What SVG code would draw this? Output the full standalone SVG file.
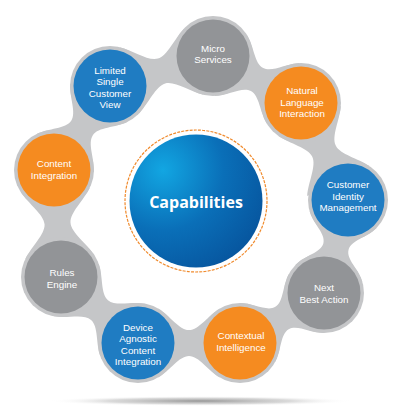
<svg xmlns="http://www.w3.org/2000/svg" width="400" height="417" viewBox="0 0 400 417">
<defs>
<radialGradient id="cg" cx="163" cy="170" r="110" gradientUnits="userSpaceOnUse">
<stop offset="0" stop-color="#12a6e2"/>
<stop offset="0.55" stop-color="#0a6fb8"/>
<stop offset="1" stop-color="#0757a0"/>
</radialGradient>
<radialGradient id="sh" cx="0.5" cy="0.5" r="0.5">
<stop offset="0" stop-color="#8a8a8a" stop-opacity="0.9"/>
<stop offset="0.6" stop-color="#b5b5b5" stop-opacity="0.5"/>
<stop offset="1" stop-color="#ffffff" stop-opacity="0"/>
</radialGradient>
</defs>
<style>
.br{fill:#c5c6c8}
.ring{fill:#c5c6c8}
.blue{fill:#1f7cc2}
.orange{fill:#f58b20}
.gray{fill:#929497}
.t{font-family:"Liberation Sans","Open Sans",sans-serif;font-size:9.8px;fill:#ffffff;text-anchor:middle}
.title{font-family:"Open Sans","Noto Sans","Liberation Sans",sans-serif;font-size:16px;font-weight:bold;fill:#ffffff;text-anchor:middle}
</style>
<rect width="400" height="417" fill="#ffffff"/>
<ellipse cx="200" cy="401" rx="152" ry="5" fill="url(#sh)"/>
<g id="connectors">
<path class="br" transform="translate(213,56) rotate(28.1)" d="M20,34.6 C32.1,27.6 39.9,13 49.9,13 C59.9,13 67.7,27.6 79.8,34.6 L79.8,-34.6 C67.7,-27.6 59.9,-13 49.9,-13 C39.9,-13 32.1,-27.6 20,-34.6Z"/>
<path class="br" transform="translate(301,103) rotate(64.4)" d="M20,34.6 C32.1,27.6 43.25,13 53.25,13 C63.25,13 74.4,27.6 86.5,34.6 L86.5,-34.6 C74.4,-27.6 63.25,-13 53.25,-13 C43.25,-13 32.1,-27.6 20,-34.6Z"/>
<path class="br" transform="translate(348,200) rotate(104.5)" d="M20,34.6 C32.1,27.6 38,13 48,13 C58,13 63.9,27.6 76,34.6 L76,-34.6 C63.9,-27.6 58,-13 48,-13 C38,-13 32.1,-27.6 20,-34.6Z"/>
<path class="br" transform="translate(324,293) rotate(149.2)" d="M20,34.6 C32.1,27.6 38.9,13 48.9,13 C58.9,13 65.7,27.6 77.8,34.6 L77.8,-34.6 C65.7,-27.6 58.9,-13 48.9,-13 C38.9,-13 32.1,-27.6 20,-34.6Z"/>
<path class="br" transform="translate(240,343) rotate(180)" d="M20,34.6 C32.1,27.6 41,13 51,13 C61,13 69.9,27.6 82,34.6 L82,-34.6 C69.9,-27.6 61,-13 51,-13 C41,-13 32.1,-27.6 20,-34.6Z"/>
<path class="br" transform="translate(138,343) rotate(220.6)" d="M20,34.6 C32.1,27.6 40.7,13 50.7,13 C60.7,13 69.3,27.6 81.4,34.6 L81.4,-34.6 C69.3,-27.6 60.7,-13 50.7,-13 C40.7,-13 32.1,-27.6 20,-34.6Z"/>
<path class="br" transform="translate(61,277) rotate(266.3)" d="M20,34.6 C32.1,27.6 43.6,13 53.6,13 C63.6,13 75.1,27.6 87.2,34.6 L87.2,-34.6 C75.1,-27.6 63.6,-13 53.6,-13 C43.6,-13 32.1,-27.6 20,-34.6Z"/>
<path class="br" transform="translate(54,170) rotate(-56.3)" d="M20,34.6 C32.1,27.6 40.5,13 50.5,13 C60.5,13 68.9,27.6 81,34.6 L81,-34.6 C68.9,-27.6 60.5,-13 50.5,-13 C40.5,-13 32.1,-27.6 20,-34.6Z"/>
<path class="br" transform="translate(110,86) rotate(-16.2)" d="M20,34.6 C32.1,27.6 43.65,13 53.65,13 C63.65,13 75.2,27.6 87.3,34.6 L87.3,-34.6 C75.2,-27.6 63.65,-13 53.65,-13 C43.65,-13 32.1,-27.6 20,-34.6Z"/>
</g>
<g id="micro-services">
<circle class="ring" cx="213" cy="56" r="40"/>
<circle class="gray" cx="213" cy="56" r="36.5"/>
<text class="t"><tspan x="213" y="52">Micro</tspan><tspan x="213" y="63.2">Services</tspan></text>
</g>
<g id="natural-language-interaction">
<circle class="ring" cx="301" cy="103" r="40"/>
<circle class="orange" cx="301" cy="103" r="36.5"/>
<text class="t"><tspan x="302" y="94.3">Natural</tspan><tspan x="302" y="105.5">Language</tspan><tspan x="302" y="116.7">Interaction</tspan></text>
</g>
<g id="customer-identity-management">
<circle class="ring" cx="348" cy="200" r="40"/>
<circle class="blue" cx="348" cy="200" r="36.5"/>
<text class="t"><tspan x="348" y="188.3">Customer</tspan><tspan x="348" y="199.5">Identity</tspan><tspan x="348" y="210.7">Management</tspan></text>
</g>
<g id="next-best-action">
<circle class="ring" cx="324" cy="293" r="40"/>
<circle class="gray" cx="324" cy="293" r="36.5"/>
<text class="t"><tspan x="324" y="291.4">Next</tspan><tspan x="324" y="302.6">Best Action</tspan></text>
</g>
<g id="contextual-intelligence">
<circle class="ring" cx="240" cy="343" r="40"/>
<circle class="orange" cx="240" cy="343" r="36.5"/>
<text class="t"><tspan x="241" y="339.4">Contextual</tspan><tspan x="241" y="350.6">Intelligence</tspan></text>
</g>
<g id="device-agnostic-content-integration">
<circle class="ring" cx="138" cy="343" r="40"/>
<circle class="blue" cx="138" cy="343" r="36.5"/>
<text class="t"><tspan x="138" y="331.2">Device</tspan><tspan x="138" y="342.4">Agnostic</tspan><tspan x="138" y="353.6">Content</tspan><tspan x="138" y="364.8">Integration</tspan></text>
</g>
<g id="rules-engine">
<circle class="ring" cx="61" cy="277" r="40"/>
<circle class="gray" cx="61" cy="277" r="36.5"/>
<text class="t"><tspan x="62" y="276.4">Rules</tspan><tspan x="62" y="287.6">Engine</tspan></text>
</g>
<g id="content-integration">
<circle class="ring" cx="54" cy="170" r="40"/>
<circle class="orange" cx="54" cy="170" r="36.5"/>
<text class="t"><tspan x="54" y="167.4">Content</tspan><tspan x="54" y="178.6">Integration</tspan></text>
</g>
<g id="limited-single-customer-view">
<circle class="ring" cx="110" cy="86" r="40"/>
<circle class="blue" cx="110" cy="86" r="36.5"/>
<text class="t"><tspan x="110" y="74.2">Limited</tspan><tspan x="110" y="85.4">Single</tspan><tspan x="110" y="96.6">Customer</tspan><tspan x="110" y="107.8">View</tspan></text>
</g>
<g id="capabilities">
<circle cx="196" cy="201" r="71" fill="none" stroke="#f08a2c" stroke-width="1.2" stroke-dasharray="3 1.2"/>
<circle cx="196" cy="201" r="66.5" fill="url(#cg)"/>
<text class="title" x="196" y="207.5">Capabilities</text>
</g>
</svg>
